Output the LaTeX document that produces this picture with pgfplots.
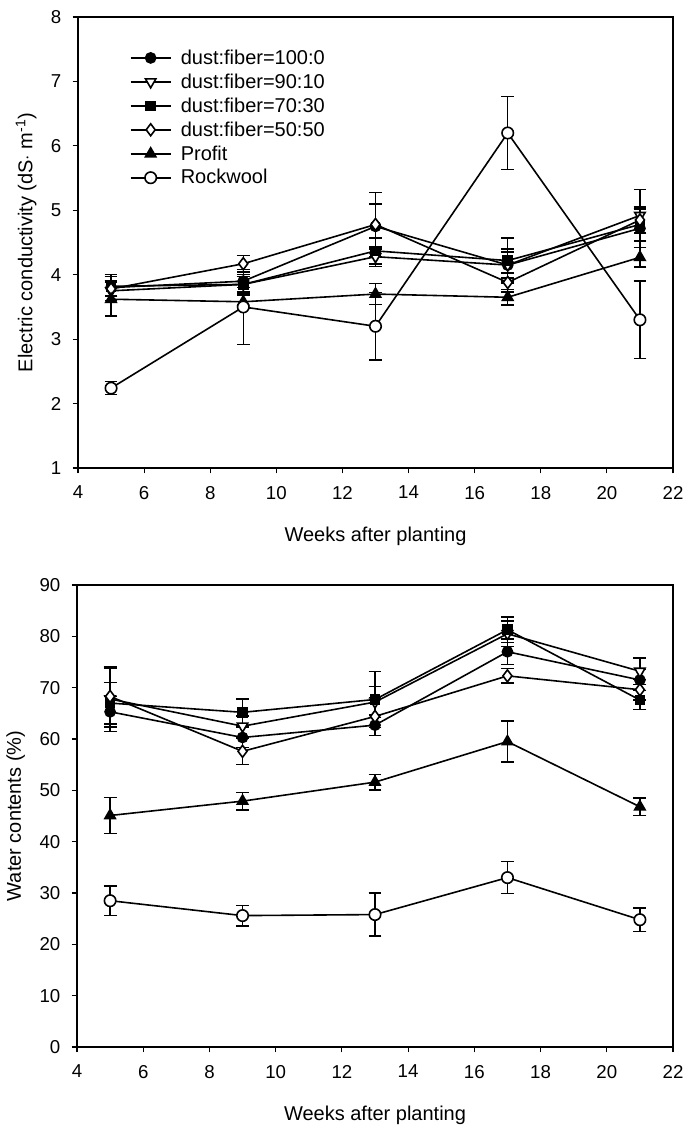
\documentclass[border=0pt]{standalone}
\usepackage{fontspec}
\setmainfont{Liberation Sans}
\usepackage{pgfplots}
\usepackage{pgfplotstable}
\pgfplotsset{compat=1.18}

% EC data: x y err
\pgfplotstableread{
x y e
5 3.80 0.20
9 3.90 0.10
13 4.75 0.35
17 4.15 0.25
21 4.72 0.30
}\ecA
\pgfplotstableread{
x y e
5 3.75 0.15
9 3.85 0.12
13 4.28 0.15
17 4.15 0.20
21 4.92 0.40
}\ecB
\pgfplotstableread{
x y e
5 3.82 0.15
9 3.85 0.15
13 4.37 0.20
17 4.22 0.35
21 4.78 0.25
}\ecC
\pgfplotstableread{
x y e
5 3.78 0.12
9 4.17 0.13
13 4.78 0.50
17 3.88 0.15
21 4.85 0.20
}\ecD
\pgfplotstableread{
x y e
5 3.62 0.26
9 3.58 0.10
13 3.70 0.16
17 3.65 0.12
21 4.27 0.15
}\ecE
\pgfplotstableread{
x y e
5 2.24 0.10
9 3.50 0.58
13 3.20 0.52
17 6.20 0.57
21 3.30 0.60
}\ecF

% Water content data
\pgfplotstableread{
x y e
5 65.3 3.0
9 60.3 2.0
13 62.7 2.0
17 77.0 2.5
21 71.5 2.0
}\wcA
\pgfplotstableread{
x y e
5 67.8 6.3
9 62.5 2.0
13 67.2 3.0
17 80.5 2.5
21 73.2 2.6
}\wcB
\pgfplotstableread{
x y e
5 67.0 4.0
9 65.2 2.6
13 67.7 5.5
17 81.3 2.5
21 67.6 1.9
}\wcC
\pgfplotstableread{
x y e
5 68.3 5.5
9 57.6 2.6
13 64.4 3.7
17 72.3 1.4
21 69.6 2.0
}\wcD
\pgfplotstableread{
x y e
5 45.1 3.5
9 47.9 1.7
13 51.6 1.5
17 59.5 4.0
21 46.8 1.7
}\wcE
\pgfplotstableread{
x y e
5 28.5 2.9
9 25.6 2.0
13 25.8 4.2
17 33.0 3.1
21 24.8 2.3
}\wcF

\pgfplotsset{
  myaxis/.style={
    scale only axis,
    xmin=4, xmax=22,
    xtick={4,6,...,22},
    tick align=outside,
    xtick pos=left, ytick pos=left,
    major tick length=4pt,
    axis line style={line width=1.2pt},
    tick style={line width=0.9pt, black},
    tick label style={font=\fontsize{14}{16}\selectfont},
    xticklabel style={yshift=-6pt},
    yticklabel style={xshift=-5pt},
    label style={font=\fontsize{15}{17}\selectfont},
    xlabel style={yshift=-14pt},
    ylabel style={yshift=4pt},
    /pgf/number format/assume math mode=true,
    every axis plot/.append style={line width=1.2pt, black},
    error bars/y dir=both,
    error bars/y explicit,
    error bars/error bar style={line width=1.1pt},
    error bars/error mark options={rotate=90, mark size=4.8pt, line width=1.1pt},
    legend image code/.code={
      \draw[mark repeat=2, mark phase=2, line width=1.2pt]
        plot coordinates {(0pt,0pt) (15pt,0pt) (30pt,0pt)};
    },
  },
  sA/.style={mark=*, mark size=3.8pt, mark options={fill=black}},
  sB/.style={mark=triangle*, mark size=4.5pt, mark options={rotate=180, fill=white, solid}},
  sC/.style={mark=square*, mark size=3.4pt, mark options={fill=black}},
  sD/.style={mark=diamond*, mark size=4.5pt, mark options={fill=white}},
  sE/.style={mark=triangle*, mark size=4.5pt, mark options={fill=black}},
  sF/.style={mark=*, mark size=4.3pt, mark options={fill=white}},
}

\begin{document}
\begin{tikzpicture}
\useasboundingbox (0pt,0pt) rectangle (513pt,-849pt);

\begin{axis}[myaxis,
  at={(58.5pt,-351pt)}, anchor=south west,
  width=446.25pt, height=338.25pt,
  ymin=1, ymax=8, ytick={1,...,8},
  xlabel={Weeks after planting},
  ylabel={Electric conductivity (dS$\cdot$ m\textsuperscript{-1})},
  legend style={at={(0.08,0.94)}, anchor=north west, draw=none, fill=none,
    font=\fontsize{15}{17}\selectfont, row sep=1.6pt,
    /tikz/every odd column/.append style={column sep=5pt}},
  legend cell align=left,
]
\addplot[sA] table[x=x,y=y,y error=e] {\ecA};
\addlegendentry{dust:fiber=100:0}
\addplot[sB] table[x=x,y=y,y error=e] {\ecB};
\addlegendentry{dust:fiber=90:10}
\addplot[sC] table[x=x,y=y,y error=e] {\ecC};
\addlegendentry{dust:fiber=70:30}
\addplot[sD] table[x=x,y=y,y error=e] {\ecD};
\addlegendentry{dust:fiber=50:50}
\addplot[sE] table[x=x,y=y,y error=e] {\ecE};
\addlegendentry{Profit}
\addplot[sF] table[x=x,y=y,y error=e] {\ecF};
\addlegendentry{Rockwool}
\end{axis}

\begin{axis}[myaxis,
  at={(57.75pt,-785.25pt)}, anchor=south west,
  width=447pt, height=346.5pt,
  ymin=0, ymax=90, ytick={0,10,...,90},
  xlabel={Weeks after planting},
  ylabel={Water contents (\%)},
]
\addplot[sA] table[x=x,y=y,y error=e] {\wcA};
\addplot[sB] table[x=x,y=y,y error=e] {\wcB};
\addplot[sC] table[x=x,y=y,y error=e] {\wcC};
\addplot[sD] table[x=x,y=y,y error=e] {\wcD};
\addplot[sE] table[x=x,y=y,y error=e] {\wcE};
\addplot[sF] table[x=x,y=y,y error=e] {\wcF};
\end{axis}
\end{tikzpicture}
\end{document}
